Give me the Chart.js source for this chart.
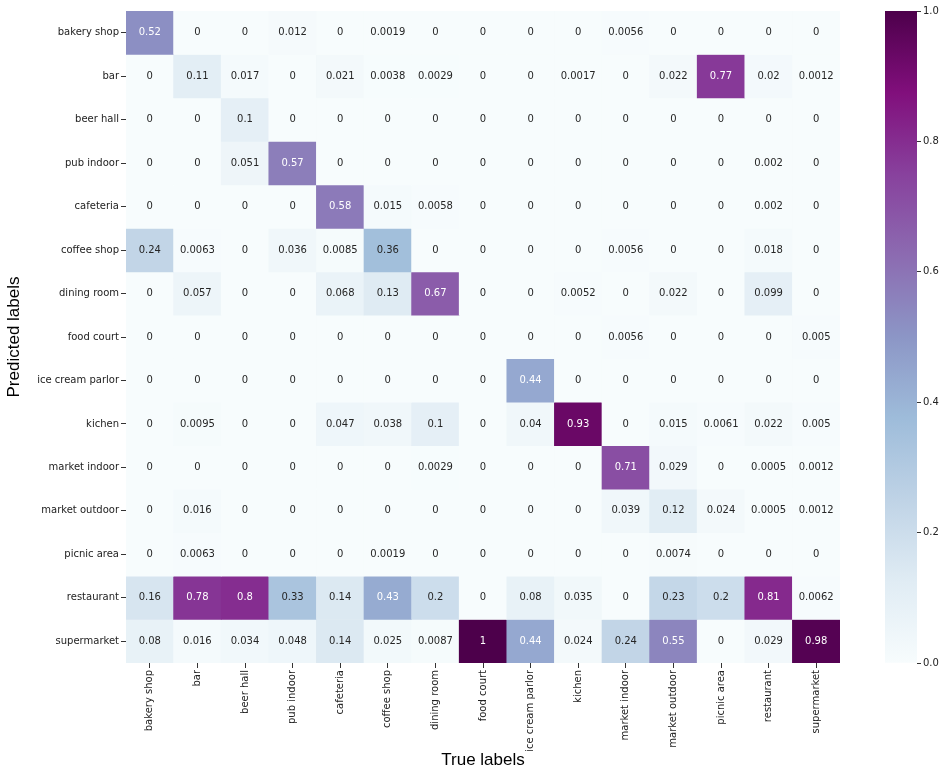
<!DOCTYPE html>
<html>
<head>
<meta charset="utf-8">
<script src="https://cdn.jsdelivr.net/npm/chart.js@4/dist/chart.umd.min.js"></script>
<style>
  body { margin: 0; background: #fff; }
  #wrap { position: relative; width: 948px; height: 771px; }
  #heat { position: absolute; left: 0; top: 0; }
  #cbar { position: absolute; left: 885px; top: 0; }
</style>
</head>
<body>
<div id="wrap">
  <canvas id="heat" width="948" height="771"></canvas>
  <canvas id="cbar" width="63" height="771"></canvas>
</div>
<script>
// labels (same order on both axes)
const trueLabels = ['bakery shop', 'bar', 'beer hall', 'pub indoor', 'cafeteria', 'coffee shop', 'dining room',
  'food court', 'ice cream parlor', 'kichen', 'market indoor', 'market outdoor', 'picnic area', 'restaurant', 'supermarket']
const predLabels = trueLabels.slice()

// one row per predicted label, columns follow trueLabels
const rowBakeryShop    = [0.52, 0, 0, 0.012, 0, 0.0019, 0, 0, 0, 0, 0.0056, 0, 0, 0, 0]
const rowBar           = [0, 0.11, 0.017, 0, 0.021, 0.0038, 0.0029, 0, 0, 0.0017, 0, 0.022, 0.77, 0.02, 0.0012]
const rowBeerHall      = [0, 0, 0.1, 0, 0, 0, 0, 0, 0, 0, 0, 0, 0, 0, 0]
const rowPubIndoor     = [0, 0, 0.051, 0.57, 0, 0, 0, 0, 0, 0, 0, 0, 0, 0.002, 0]
const rowCafeteria     = [0, 0, 0, 0, 0.58, 0.015, 0.0058, 0, 0, 0, 0, 0, 0, 0.002, 0]
const rowCoffeeShop    = [0.24, 0.0063, 0, 0.036, 0.0085, 0.36, 0, 0, 0, 0, 0.0056, 0, 0, 0.018, 0]
const rowDiningRoom    = [0, 0.057, 0, 0, 0.068, 0.13, 0.67, 0, 0, 0.0052, 0, 0.022, 0, 0.099, 0]
const rowFoodCourt     = [0, 0, 0, 0, 0, 0, 0, 0, 0, 0, 0.0056, 0, 0, 0, 0.005]
const rowIceCream      = [0, 0, 0, 0, 0, 0, 0, 0, 0.44, 0, 0, 0, 0, 0, 0]
const rowKichen        = [0, 0.0095, 0, 0, 0.047, 0.038, 0.1, 0, 0.04, 0.93, 0, 0.015, 0.0061, 0.022, 0.005]
const rowMarketIndoor  = [0, 0, 0, 0, 0, 0, 0.0029, 0, 0, 0, 0.71, 0.029, 0, 0.0005, 0.0012]
const rowMarketOutdoor = [0, 0.016, 0, 0, 0, 0, 0, 0, 0, 0, 0.039, 0.12, 0.024, 0.0005, 0.0012]
const rowPicnicArea    = [0, 0.0063, 0, 0, 0, 0.0019, 0, 0, 0, 0, 0, 0.0074, 0, 0, 0]
const rowRestaurant    = [0.16, 0.78, 0.8, 0.33, 0.14, 0.43, 0.2, 0, 0.08, 0.035, 0, 0.23, 0.2, 0.81, 0.0062]
const rowSupermarket   = [0.08, 0.016, 0.034, 0.048, 0.14, 0.025, 0.0087, 1, 0.44, 0.024, 0.24, 0.55, 0, 0.029, 0.98]

const rows = [rowBakeryShop, rowBar, rowBeerHall, rowPubIndoor, rowCafeteria, rowCoffeeShop, rowDiningRoom,
  rowFoodCourt, rowIceCream, rowKichen, rowMarketIndoor, rowMarketOutdoor, rowPicnicArea, rowRestaurant, rowSupermarket]

const cbarTicks = [0, 0.2, 0.4, 0.6, 0.8, 1.0]

// BuPu colormap
const bupu = ['#f7fcfd', '#e0ecf4', '#bfd3e6', '#9ebcda', '#8c96c6', '#8c6bb1', '#88419d', '#810f7c', '#4d004b']

function hexRgb(h) {
  return [parseInt(h.slice(1, 3), 16), parseInt(h.slice(3, 5), 16), parseInt(h.slice(5, 7), 16)]
}

function colorAt(v) {
  v = Math.max(0, Math.min(1, v))
  const p = v * (bupu.length - 1)
  const i = Math.min(Math.floor(p), bupu.length - 2)
  const t = p - i
  const a = hexRgb(bupu[i]), b = hexRgb(bupu[i + 1])
  return a.map((c, k) => Math.round(c + (b[k] - c) * t))
}

function rgbStr(c) { return 'rgb(' + c.join(',') + ')' }

// same rule seaborn uses for annotation colour
function textColor(v) {
  const lin = colorAt(v).map(c => {
    c = c / 255
    return c <= 0.03928 ? c / 12.92 : Math.pow((c + 0.055) / 1.055, 2.4)
  })
  const lum = 0.2126 * lin[0] + 0.7152 * lin[1] + 0.0722 * lin[2]
  return lum > 0.408 ? '#262626' : '#ffffff'
}

const tickFont = { family: 'DejaVu Sans', size: 10 }
const titleFont = { family: 'Liberation Sans', size: 17 }

const annotate = {
  id: 'annotate',
  afterDatasetsDraw(chart) {
    const ctx = chart.ctx
    ctx.save()
    ctx.font = '10px "DejaVu Sans"'
    ctx.textAlign = 'center'
    ctx.textBaseline = 'middle'
    chart.data.datasets.forEach((ds, r) => {
      chart.getDatasetMeta(r).data.forEach((bar, c) => {
        const v = rows[r][c]
        const p = bar.getCenterPoint()
        ctx.fillStyle = textColor(v)
        ctx.fillText(String(v), p.x, p.y)
      })
    })
    ctx.restore()
  }
}

// heatmap: one stacked bar dataset per predicted row
new Chart(document.getElementById('heat'), {
  type: 'bar',
  data: {
    labels: trueLabels,
    datasets: rows.map((vals, r) => ({
      label: predLabels[r],
      data: vals.map(() => 1),
      backgroundColor: vals.map(v => rgbStr(colorAt(v))),
      borderWidth: 0,
      barPercentage: 1,
      categoryPercentage: 1,
      yAxisID: 'y'
    }))
  },
  options: {
    responsive: false,
    animation: false,
    layout: { padding: { top: 11, right: 108, left: 0, bottom: 0 } },
    plugins: { legend: { display: false }, tooltip: { enabled: false } },
    scales: {
      x: {
        stacked: true,
        grid: { display: true, drawOnChartArea: false, drawTicks: true, tickLength: 5, tickColor: '#333', offset: false },
        border: { display: false },
        ticks: { font: tickFont, color: '#222', maxRotation: 90, minRotation: 90, padding: 2, autoSkip: false },
        title: { display: true, text: 'True labels', font: titleFont, color: '#000', padding: { top: 0, bottom: 0 } },
        afterFit(s) { s.height = 108 }
      },
      y: {
        display: false,
        stacked: true,
        reverse: true,
        min: 0,
        max: predLabels.length
      },
      yCat: {
        type: 'category',
        position: 'left',
        labels: predLabels,
        offset: true,
        grid: { display: true, drawOnChartArea: false, drawTicks: true, tickLength: 5, tickColor: '#333', offset: false },
        border: { display: false },
        ticks: { font: tickFont, color: '#222', padding: 2, autoSkip: false },
        title: { display: true, text: 'Predicted labels', font: titleFont, color: '#000', padding: { top: 4, bottom: 0 } },
        afterFit(s) { s.width = 126 }
      }
    }
  },
  plugins: [annotate]
})

// colour bar
new Chart(document.getElementById('cbar'), {
  type: 'bar',
  data: {
    labels: [''],
    datasets: [{
      data: [[0, 1]],
      borderWidth: 0,
      barPercentage: 1,
      categoryPercentage: 1,
      backgroundColor(context) {
        const area = context.chart.chartArea
        if (!area) return bupu[0]
        const g = context.chart.ctx.createLinearGradient(0, area.bottom, 0, area.top)
        bupu.forEach((c, i) => g.addColorStop(i / (bupu.length - 1), c))
        return g
      }
    }]
  },
  options: {
    responsive: false,
    animation: false,
    layout: { padding: { top: 11, bottom: 108, left: 0, right: 0 } },
    plugins: { legend: { display: false }, tooltip: { enabled: false } },
    scales: {
      x: { display: false },
      y: {
        position: 'right',
        min: 0,
        max: 1,
        afterBuildTicks(s) { s.ticks = cbarTicks.map(v => ({ value: v })) },
        grid: { display: true, drawOnChartArea: false, drawTicks: true, tickLength: 4, tickColor: '#333' },
        border: { display: false },
        ticks: { font: tickFont, color: '#222', padding: 2, callback: v => v.toFixed(1) },
        afterFit(s) { s.width = 31 }
      }
    }
  }
})
</script>
</body>
</html>
